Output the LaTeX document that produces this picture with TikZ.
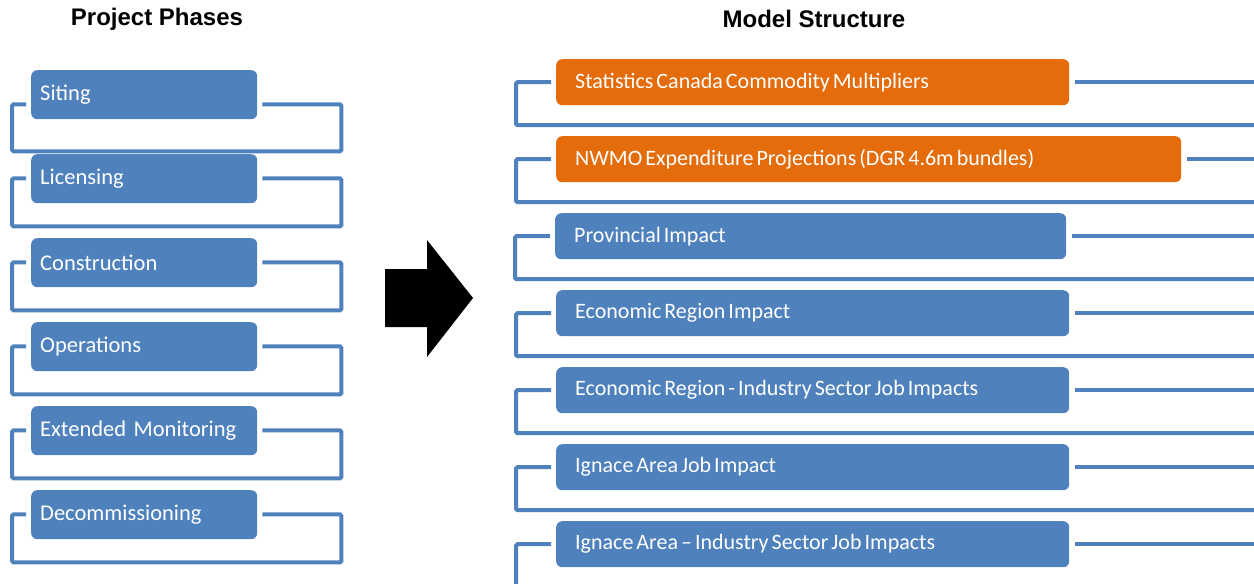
\documentclass[tikz,border=0pt]{standalone}
\usepackage{fontspec}
\setmainfont{Carlito}
\newfontfamily\titlefont{Liberation Sans}
\usetikzlibrary{calc}
\definecolor{boxblue}{HTML}{4F81BD}
\definecolor{boxorange}{HTML}{E46C0A}
\begin{document}
\begin{tikzpicture}[x=1pt,y=-1pt,
  phase/.style={rounded corners=6pt, fill=boxblue, text=white, anchor=north west,
    minimum height=49pt, inner xsep=9pt, inner ysep=0pt, text width=208pt, align=left,
    font=\fontsize{22.5}{26}\selectfont},
  model/.style={rounded corners=6pt, fill=boxblue, text=white, anchor=north west,
    minimum height=46pt, inner xsep=19pt, inner ysep=0pt, text width=475pt, align=left,
    font=\fontsize{22}{25}\selectfont,
    execute at begin node={\spaceskip=3pt plus 1pt minus 1pt\relax}},
  orangebox/.style={model, fill=boxorange},
  bracket/.style={draw=boxblue, line width=4pt, rounded corners=1.5pt},
  title/.style={font=\titlefont\bfseries\fontsize{24}{28}\selectfont, text=black}]
\useasboundingbox (0,0) rectangle (1254,584);
\clip (0,0) rectangle (1254,584);
\coordinate (edge) at (1262,0);

% titles
\node[title] (t1) at (157,19) {Project Phases};
\node[title] (t2) at (814,19) {Model Structure};

% left phases
\foreach \n/\txt/\up/\dn [count=\i from 0] in {L1/Siting/-15/32, L2/Licensing/-25/23, L3/Construction/-25/23, L4/Operations/-25/23, L5/Extended Monitoring/-25/23, L6/Decommissioning/-25/23}{
  \node[phase] (\n) at (31,70+84*\i) {\txt};
  \draw[bracket] ($(\n.south west)+(-5,\up)$) -- ++(-14,0) |- ($(\n.south east)+(84,\dn)$) |- ($(\n.south east)+(5,\up)$);
}

% arrow
\fill[black] (385,269) -- (427,269) -- (427,240) -- (473,298) -- (427,357) -- (427,327) -- (385,327) -- cycle;

% right model structure
\node[orangebox] (R1) at (556,59) {Statistics Canada Commodity Multipliers};
\node[orangebox, text width=587pt] (R2) at (556,136) {NWMO Expenditure Projections (DGR 4.6m bundles)};
\node[model, text width=473pt] (R3) at (555,213) {Provincial Impact};
\node[model] (R4) at (556,290) {Economic Region Impact};
\node[model] (R5) at (556,367) {Economic Region - Industry Sector Job Impacts};
\node[model] (R6) at (556,444) {Ignace Area Job Impact};
\node[model] (R7) at (556,521) {Ignace Area – Industry Sector Job Impacts};

\foreach \n in {R1,R2,R3,R4,R5,R6,R7}{
  \coordinate (\n b) at ($(\n.west)+(0,43)$);
  \draw[bracket] ($(\n.east)+(6,0)$) -- (\n.east -| edge);
  \draw[bracket] ($(\n.west)+(-5,0)$) -- ++(-35,0) |- (\n b -| edge);
}
\end{tikzpicture}
\end{document}
